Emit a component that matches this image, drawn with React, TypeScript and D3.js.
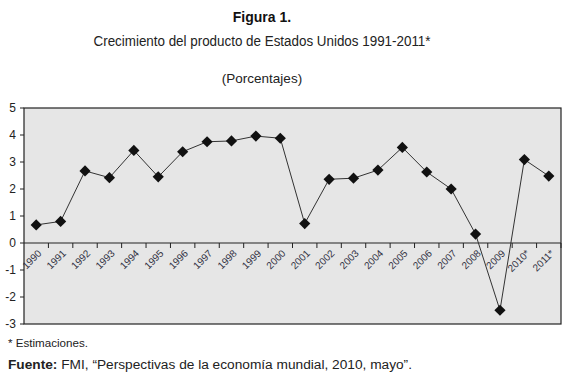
import React from "react";
import * as d3 from "d3";

const years = ["1990","1991","1992","1993","1994","1995","1996","1997","1998","1999","2000","2001","2002","2003","2004","2005","2006","2007","2008","2009","2010*","2011*"];
const growth = [0.67,0.8,2.67,2.42,3.43,2.45,3.38,3.75,3.78,3.96,3.88,0.72,2.36,2.4,2.7,3.54,2.63,2.0,0.33,-2.49,3.09,2.48];
const yTicks = [5,4,3,2,1,0,-1,-2,-3];

const W = 567, H = 375;
const left = 24, right = 561, top = 108, bottom = 324;
const font = "'Liberation Sans', Arial, sans-serif";

export default function App() {
  const x = d3.scaleBand<string>().domain(years).range([left, right]).paddingInner(0).paddingOuter(0);
  const y = d3.scaleLinear().domain([-3, 5]).range([bottom, top]);
  const line = d3.line<number>().x((_, i) => (x(years[i]) as number) + x.bandwidth() / 2).y(d => y(d));
  const y0 = y(0);
  const boundaries = years.map((yr) => (x(yr) as number) + x.bandwidth());
  const d = 5.6;
  return (
    <svg width={W} height={H} style={{ display: "block", position: "absolute", left: 0, top: 0 }}>
      <rect width={W} height={H} fill="#fff" />
      <text x={262} y={22} textAnchor="middle" fontFamily={font} fontWeight="bold" fontSize={14} fill="#111">Figura 1.</text>
      <text x={262} y={46} textAnchor="middle" fontFamily={font} fontSize={14} fill="#222" textLength={337} lengthAdjust="spacingAndGlyphs">Crecimiento del producto de Estados Unidos 1991-2011*</text>
      <text x={262} y={83} textAnchor="middle" fontFamily={font} fontSize={13.5} fill="#222">(Porcentajes)</text>
      <rect x={left} y={top} width={right - left} height={bottom - top} fill="#e6e6e6" stroke="#222" strokeWidth={1.2} />
      {yTicks.map(t => (
        <g key={t}>
          <line x1={left - 4} x2={left} y1={y(t)} y2={y(t)} stroke="#222" strokeWidth={1} />
          <text x={left - 8} y={y(t) + 4} textAnchor="end" fontFamily={font} fontSize={12} fill="#222">{t}</text>
        </g>
      ))}
      <line x1={left} x2={right} y1={y0} y2={y0} stroke="#222" strokeWidth={1} />
      {boundaries.map((b, i) => (
        <line key={i} x1={b} x2={b} y1={y0} y2={y0 + 5} stroke="#222" strokeWidth={1} />
      ))}
      {years.map(yr => {
        const cx = (x(yr) as number) + x.bandwidth() / 2 + 1;
        const cy = y0 + 6;
        return (
          <text key={yr} transform={`translate(${cx},${cy}) rotate(-45)`} textAnchor="end" dy="0.7em" fontFamily={font} fontSize={10} fill="#334">{yr}</text>
        );
      })}
      <path d={line(growth) || ""} fill="none" stroke="#333" strokeWidth={1} />
      {growth.map((v, i) => {
        const cx = (x(years[i]) as number) + x.bandwidth() / 2;
        const cy = y(v);
        return <path key={i} d={`M${cx},${cy - d}L${cx + d},${cy}L${cx},${cy + d}L${cx - d},${cy}Z`} fill="#111" />;
      })}
      <text x={8} y={347} fontFamily={font} fontSize={11.5} fill="#222" textLength={80} lengthAdjust="spacingAndGlyphs">* Estimaciones.</text>
      <text x={8} y={369} fontFamily={font} fontSize={12.5} fill="#222" textLength={404} lengthAdjust="spacingAndGlyphs"><tspan fontWeight="bold">Fuente:</tspan> FMI, “Perspectivas de la economía mundial, 2010, mayo”.</text>
    </svg>
  );
}
